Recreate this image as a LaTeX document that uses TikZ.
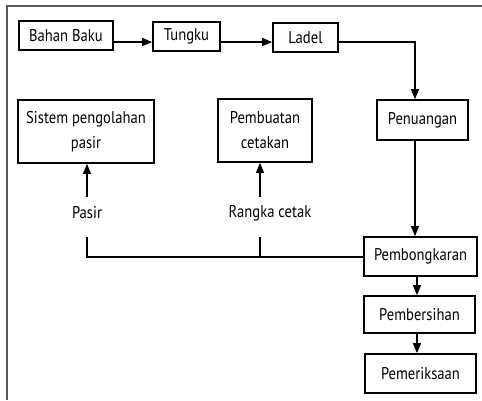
\documentclass[tikz,border=0pt]{standalone}
\usepackage{fontspec}
\setmainfont[FakeStretch=0.86]{PT Sans}
\usetikzlibrary{arrows.meta}
\begin{document}
\begin{tikzpicture}[x=1pt,y=-1pt,
  box/.style={draw, line width=1.7pt, inner sep=0pt, align=center,
    font=\fontsize{17}{25}\selectfont},
  lbl/.style={inner sep=0pt, font=\fontsize{17}{25}\selectfont},
  arr/.style={line width=1.4pt, -{Triangle[length=10pt,width=8pt]}},
  ln/.style={line width=1.4pt}]
\useasboundingbox (0,0) rectangle (482,400);
\draw[line width=2pt, gray!70!black] (7,400) -- (7,6) -- (482,6);
\node[box, minimum width=94pt, minimum height=29pt] (bahan) at (66,35.5) {Bahan Baku};
\node[box, minimum width=67pt, minimum height=29pt] (tungku) at (186.5,36.5) {Tungku};
\node[box, minimum width=65pt, minimum height=29pt] (ladel) at (305.5,37.5) {Ladel};
\node[box, minimum width=91pt, minimum height=40pt] (penuangan) at (422.5,120) {Penuangan};
\node[box, minimum width=136pt, minimum height=63pt] (sistem) at (86,131.5) {Sistem pengolahan\\pasir};
\node[box, minimum width=94pt, minimum height=63pt] (pembuatan) at (265,130.5) {Pembuatan\\cetakan};
\node[box, minimum width=113pt, minimum height=39pt] (bongkar) at (420.5,256.5) {Pembongkaran};
\node[box, minimum width=111pt, minimum height=37pt] (bersih) at (419.5,314.5) {Pembersihan};
\node[box, minimum width=111pt, minimum height=39pt] (periksa) at (420.5,373.5) {Pemeriksaan};
\node[lbl] (pasir) at (87,213) {Pasir};
\node[lbl] (rangka) at (270,213) {Rangka cetak};
\coordinate (pasirtop) at (87,197);
\coordinate (rangkatop) at (260,197);
\coordinate (tickA) at (87,237);
\coordinate (tickB) at (260,237);
\coordinate (corner) at (87,257);
\coordinate (jB) at (260,257);
% top row
\draw[arr] (bahan.east |- 0,42) -- (tungku.west |- 0,42);
\draw[arr] (tungku.east |- 0,42) -- (ladel.west |- 0,42);
\draw[arr] (ladel.east |- 0,42) -| (penuangan.north -| 415,0);
% right column
\draw[arr] (penuangan.south -| 415,0) -- (bongkar.north -| 415,0);
\draw[arr] (bongkar.south -| 417,0) -- (bersih.north -| 417,0);
\draw[arr] (bersih.south -| 417,0) -- (periksa.north -| 417,0);
% return lines
\draw[ln] (bongkar.west |- corner) -- (corner) -- (tickA);
\draw[ln] (jB) -- (tickB);
\draw[arr] (pasirtop) -- (sistem.south -| pasirtop);
\draw[arr] (rangkatop) -- (pembuatan.south -| rangkatop);
\end{tikzpicture}
\end{document}
